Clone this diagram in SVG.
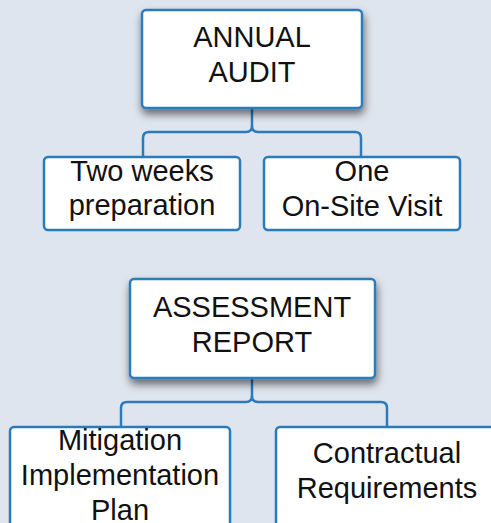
<svg xmlns="http://www.w3.org/2000/svg" width="491" height="523" viewBox="0 0 491 523">
  <defs>
    <filter id="shadow" x="-20%" y="-20%" width="140%" height="160%">
      <feDropShadow dx="1" dy="5" stdDeviation="4" flood-color="#000" flood-opacity="0.55"/>
    </filter>
  </defs>
  <style>
    .box { fill: #ffffff; stroke: #2a7bbb; stroke-width: 2.5; }
    .conn { fill: none; stroke: #2a7bbb; stroke-width: 2.5; }
    .t { font-family: "Liberation Sans", Arial, sans-serif; font-size: 29px; fill: #111111; text-anchor: middle; }
  </style>
  <rect width="491" height="523" fill="#dfe5ee"/>
  <g id="connectors">
    <path class="conn" d="M252,108 V126 Q252,132 246,132 H149 Q143,132 143,138 V157"/>
    <path class="conn" d="M252,126 Q252,132 258,132 H355 Q361,132 361,138 V157"/>
    <path class="conn" d="M252,378 V396 Q252,402 246,402 H127 Q121,402 121,408 V427"/>
    <path class="conn" d="M252,396 Q252,402 258,402 H381 Q387,402 387,408 V427"/>
  </g>
  <g id="annual-audit">
    <rect class="box" x="142" y="10" width="220" height="98" rx="4" filter="url(#shadow)"/>
    <text class="t" x="252" y="47">ANNUAL</text>
    <text class="t" x="252" y="82">AUDIT</text>
  </g>
  <g id="two-weeks">
    <rect class="box" x="44" y="157" width="196" height="73" rx="4"/>
    <text class="t" x="142" y="181">Two weeks</text>
    <text class="t" x="142" y="215">preparation</text>
  </g>
  <g id="on-site-visit">
    <rect class="box" x="264" y="157" width="196" height="73" rx="4"/>
    <text class="t" x="362" y="181">One</text>
    <text class="t" x="362" y="216">On-Site Visit</text>
  </g>
  <g id="assessment-report">
    <rect class="box" x="130" y="279" width="245" height="99" rx="4" filter="url(#shadow)"/>
    <text class="t" x="252" y="317">ASSESSMENT</text>
    <text class="t" x="252" y="352">REPORT</text>
  </g>
  <g id="mitigation">
    <rect class="box" x="10" y="427" width="220" height="110" rx="4"/>
    <text class="t" x="120" y="450">Mitigation</text>
    <text class="t" x="120" y="485">Implementation</text>
    <text class="t" x="120" y="520">Plan</text>
  </g>
  <g id="contractual">
    <rect class="box" x="276" y="427" width="225" height="110" rx="4"/>
    <text class="t" x="387" y="463">Contractual</text>
    <text class="t" x="387" y="498">Requirements</text>
  </g>
</svg>
